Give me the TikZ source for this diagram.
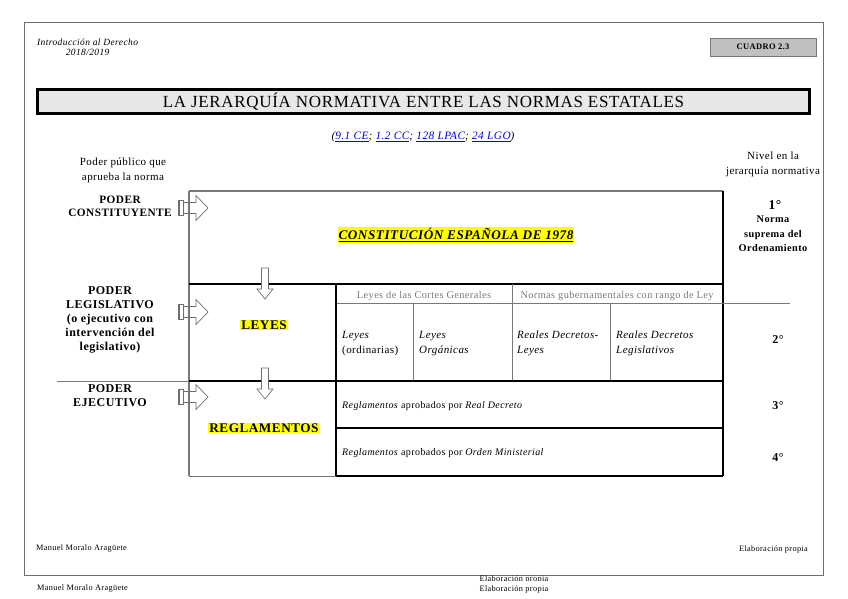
\documentclass[tikz,border=0pt]{standalone}
\usepackage{fontspec}
\setmainfont{Liberation Serif}[LetterSpace=4]
\usetikzlibrary{positioning}
\definecolor{framegray}{RGB}{110,110,110}
\definecolor{boxgray}{RGB}{192,192,192}
\definecolor{titlegray}{RGB}{232,232,232}
\definecolor{linkblue}{RGB}{0,0,230}
\definecolor{hiyellow}{RGB}{255,255,0}
\definecolor{softgray}{RGB}{120,120,120}

\newcommand{\rightblock}[2]{%
  \draw[blockarrow, line width=1.6pt] (#1+1,#2-7) -- (#1+1,#2+7);
  \draw[blockarrow] (#1,#2-7.5) rectangle (#1+5,#2+7.5);
  \draw[blockarrow] (#1+5,#2-5.5) -- (#1+18,#2-5.5) -- (#1+18,#2-12.5) -- (#1+30,#2)
    -- (#1+18,#2+12.5) -- (#1+18,#2+5.5) -- (#1+5,#2+5.5);}
\newcommand{\downblock}[2]{%
  \draw[blockarrow, fill=white] (#1-3.5,#2) -- (#1+3.5,#2) -- (#1+3.5,#2+21) -- (#1+8,#2+21)
    -- (#1,#2+31) -- (#1-8,#2+21) -- (#1-3.5,#2+21) -- cycle;}
\newcommand{\hl}[1]{{\setlength{\fboxsep}{1pt}\colorbox{hiyellow}{#1}}}
\newcommand{\lnk}[1]{\textcolor{linkblue}{\underline{#1}}}

\begin{document}
\begin{tikzpicture}[x=1pt, y=-1pt,
    hdr/.style={font=\fontsize{9.5}{10.5}\selectfont\itshape, inner sep=0pt},
    txt/.style={font=\fontsize{11}{15}\selectfont, inner sep=0pt, align=center},
    poder/.style={font=\fontsize{12}{14}\selectfont\bfseries, inner sep=0pt, align=center},
    nivel/.style={font=\fontsize{12}{14}\selectfont\bfseries, inner sep=0pt, align=center},
    cell/.style={font=\fontsize{11}{15}\selectfont, inner sep=0pt, align=left, anchor=west},
    fila/.style={font=\fontsize{10}{12}\selectfont, inner sep=0pt, anchor=west},
    grupo/.style={font=\fontsize{10.3}{11}\selectfont, text=softgray, inner sep=0pt},
    marca/.style={font=\fontsize{13.2}{14}\selectfont\bfseries, inner sep=0pt},
    foot/.style={font=\fontsize{8.3}{9}\selectfont, inner sep=0pt},
    blockarrow/.style={draw=framegray, line width=0.7pt},
    thinline/.style={draw=softgray, line width=0.8pt},
    thickline/.style={draw=black, line width=2pt}]
  \useasboundingbox (0,0) rectangle (848,599);

  \draw[framegray, line width=1pt] (24,23) rectangle (823,575);

  \node[hdr, anchor=west] (curso) at (37,42) {Introducción al Derecho};
  \node[hdr] (anio) [below=3.5pt of curso] {2018/2019};
  \node[draw=softgray, fill=boxgray, minimum width=106pt, minimum height=18pt,
        font=\fontsize{8.5}{9}\selectfont\bfseries] (cuadro) at (763,47) {CUADRO 2.3};

  \node[draw=black, line width=2.5pt, fill=titlegray, minimum width=772pt, minimum height=22pt,
        font=\fontsize{17}{18}\selectfont] (titulo) at (423.5,101.5)
        {LA JERARQUÍA NORMATIVA ENTRE LAS NORMAS ESTATALES};
  \node[font=\fontsize{11.3}{12}\selectfont\itshape, inner sep=0pt] (citas) at (423,137)
        {(\lnk{9.1 CE}; \lnk{1.2 CC}; \lnk{128 LPAC}; \lnk{24 LGO})};

  \node[txt] (quien) at (123,170) {Poder público que\\aprueba la norma};
  \node[txt, fill=white, inner sep=1pt] (nivel) at (773,164.5) {Nivel en la\\jerarquía normativa};

  \rightblock{178}{208}
  \rightblock{178}{312}
  \rightblock{178}{397}

  \draw[thinline, line width=1.5pt] (189,191) -- (723,191);
  \draw[thinline, line width=1.8pt] (189,191) -- (189,476);
  \draw[thickline] (723,191) -- (723,476);
  \draw[thickline] (189,284) -- (723,284);
  \draw[thinline] (336,303) -- (790,303);
  \draw[thickline] (336,284) -- (336,476);
  \draw[thinline] (512,284) -- (512,381);
  \draw[thinline] (413,303) -- (413,381);
  \draw[thinline] (610,303) -- (610,381);
  \draw[thinline] (57,381) -- (189,381);
  \draw[thickline] (189,381) -- (723,381);
  \draw[thickline] (336,428) -- (723,428);
  \draw[thickline] (336,476) -- (723,476);
  \draw[thinline] (189,476) -- (336,476);

  \downblock{265}{268}
  \downblock{265}{368}

  \node[poder, font=\fontsize{11.3}{13.5}\selectfont\bfseries] (constituyente) at (120,206.5) {PODER\\CONSTITUYENTE};
  \node[poder] (legislativo) at (110,319.5) {PODER\\LEGISLATIVO\\(o ejecutivo con\\intervención del\\legislativo)};
  \node[poder] (ejecutivo) at (110,396) {PODER\\EJECUTIVO};

  \node[marca, font=\fontsize{13.2}{14}\selectfont\bfseries\itshape] (ce) at (456,235)
        {\hl{\underline{CONSTITUCIÓN ESPAÑOLA DE 1978}}};
  \node[marca] (leyes) at (264,325) {\hl{LEYES}};
  \node[marca] (reglamentos) at (264,428) {\hl{REGLAMENTOS}};

  \node[grupo] (cortes) at (424,296) {Leyes de las Cortes Generales};
  \node[grupo] (gobierno) at (617,296) {Normas gubernamentales con rango de Ley};
  \node[cell] (ordinarias) at (342,343.5) {\textit{Leyes}\\(ordinarias)};
  \node[cell] (organicas) at (419,343.5) {\textit{Leyes}\\\textit{Orgánicas}};
  \node[cell] (rdl) at (517,343.5) {\textit{Reales Decretos-}\\\textit{Leyes}};
  \node[cell] (rdleg) at (616,343.5) {\textit{Reales Decretos}\\\textit{Legislativos}};
  \node[fila] (rd) at (342,406) {\textit{Reglamentos} aprobados por \textit{Real Decreto}};
  \node[fila] (om) at (342,453) {\textit{Reglamentos} aprobados por \textit{Orden Ministerial}};

  \node[nivel] (n1) at (775,205) {\fontsize{13.5}{14}\selectfont 1°};
  \node[poder, font=\fontsize{10.3}{14.5}\selectfont\bfseries] (suprema) at (773,234) {Norma\\suprema del\\Ordenamiento};
  \node[nivel] (n2) at (778,340) {2°};
  \node[nivel] (n3) at (778,406) {3°};
  \node[nivel] (n4) at (778,458) {4°};

  \node[foot, anchor=west] (autor) at (36,549) {Manuel Moralo Aragüete};
  \node[foot, anchor=east] (fuente) at (808,549) {Elaboración propia};
  \node[foot, anchor=west] (autorb) at (37,589) {Manuel Moralo Aragüete};
  \node[foot] (fuenteb) at (514,589) {Elaboración propia};
  \begin{scope}
    \clip (400,574) rectangle (620,580);
    \node[foot] (fuentec) at (514,579) {Elaboración propia};
  \end{scope}
\end{tikzpicture}
\end{document}
